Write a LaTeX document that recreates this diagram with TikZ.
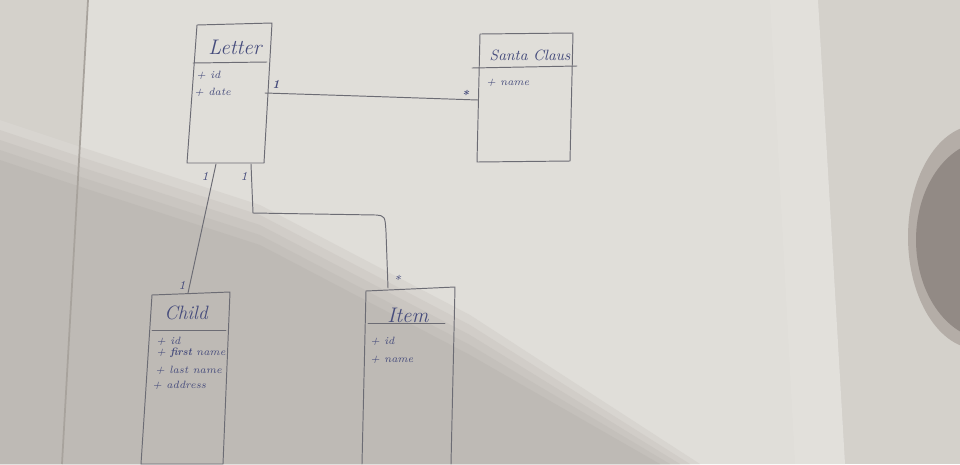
\documentclass[tikz,border=0pt]{standalone}
\usetikzlibrary{calc}
\definecolor{desk}{RGB}{212,209,203}
\definecolor{paper}{RGB}{224,222,217}
\definecolor{paperedge}{RGB}{168,163,157}
\definecolor{shadeA}{RGB}{216,213,208}
\definecolor{shadeB}{RGB}{209,205,200}
\definecolor{shadeC}{RGB}{202,198,193}
\definecolor{shadeD}{RGB}{196,192,187}
\definecolor{shadeE}{RGB}{190,186,181}
\definecolor{rim}{RGB}{180,173,167}
\definecolor{hole}{RGB}{146,138,133}
\definecolor{pencil}{RGB}{108,108,116}
\definecolor{ink}{RGB}{70,76,124}
\begin{document}
\begin{tikzpicture}[x=0.02cm,y=-0.02cm,
  pen/.style={draw=pencil, line width=0.55pt, line join=round, line cap=round},
  classtitle/.style={text=ink, font=\fontsize{12}{12}\selectfont\itshape, inner sep=0},
  attr/.style={text=ink, font=\fontsize{6}{6}\selectfont\itshape, anchor=west, inner sep=0},
  mult/.style={text=ink, font=\fontsize{7}{7}\selectfont\itshape, inner sep=0}]
\useasboundingbox (0,0) rectangle (960,464);
\clip (0,0) rectangle (960,464);

% desk and sheet of paper
\fill[desk] (0,0) rectangle (960,464);
\fill[paper] (88,0) -- (818,0) -- (845,464) -- (62,464) -- cycle;
\fill[white, opacity=0.07] (770,0) -- (818,0) -- (845,464) -- (795,464) -- cycle;

% soft shadow across the lower left, in bands from light to dark
\foreach \o/\c in {0/shadeA, 10/shadeB, 20/shadeC, 30/shadeD, 40/shadeE}{
  \fill[\c] (0,{120+\o}) -- (90,{150+\o}) -- (260,{205+\o}) -- (470,{315+\o}) -- ({700-\o},464) -- (0,464) -- cycle;
}
\draw[paperedge, line width=1pt] (88,0) -- (62,464);

% round object at the right edge
\fill[rim] (978,237) ellipse [x radius=70, y radius=112];
\fill[hole] (990,240) ellipse [x radius=74, y radius=100];

% class Letter
\draw[pen] (197,25) -- (272,23) -- (264,163) -- (187,163) -- cycle;
\draw[pen] (193,63) -- (267,62);
\node[classtitle] (letterT) at (235,47) {Letter};
\node[attr] (letterA1) at (196,75) {+ id};
\node[attr] (letterA2) at (194,92) {+ date};

% class Santa Claus
\draw[pen] (480,34) -- (573,33) -- (570,161) -- (477,162) -- cycle;
\draw[pen] (472,68) -- (577,66);
\node[classtitle, font=\fontsize{8.5}{9}\selectfont\itshape] (santaT) at (530,55) {Santa Claus};
\node[attr] (santaA1) at (486,83) {+ name};

% class Child
\draw[pen] (152,295) -- (230,292) -- (223,464) -- (141,464);
\draw[pen] (152,295) -- (141,464);
\draw[pen] (152,330) -- (226,330);
\node[classtitle, font=\fontsize{11}{11}\selectfont\itshape] (childT) at (186,313) {Child};
\node[attr] (childA1) at (156,341) {+ id};
\node[attr] (childA2) at (156,353) {+ \textbf{first} name};
\node[attr] (childA3) at (155,370) {+ last name};
\node[attr] (childA4) at (152,385) {+ address};

% class Item
\draw[pen] (366,291) -- (455,287) -- (451,464);
\draw[pen] (366,291) -- (362,464);
\draw[pen] (368,323) -- (445,323);
\node[classtitle] (itemT) at (408,315) {Item};
\node[attr] (itemA1) at (370,341) {+ id};
\node[attr] (itemA2) at (370,360) {+ name};

% connector end points on the class borders
\coordinate (letterE) at (265,93);
\coordinate (santaW) at (478,100);
\coordinate (letterS1) at (216,164);
\coordinate (childN) at (188,293);
\coordinate (letterS2) at (251,164);
\coordinate (itemN) at (388,288);

% associations
\draw[pen] (letterE) .. controls (360,96) .. (santaW);
\draw[pen] (letterS1) -- (childN);
\draw[pen] (letterS2) -- (253,213) -- (376,215) .. controls (385,216) .. (386,232) -- (itemN);

% multiplicities
\node[mult] (mLS1) at (276,84) {\textbf{1}};
\node[mult] (mLS2) at (465,95) {\textbf{*}};
\node[mult] (mLC1) at (205,176) {1};
\node[mult] (mLC2) at (182,285) {1};
\node[mult] (mLI1) at (244,176) {1};
\node[mult] (mLI2) at (397,280) {*};
\end{tikzpicture}
\end{document}
